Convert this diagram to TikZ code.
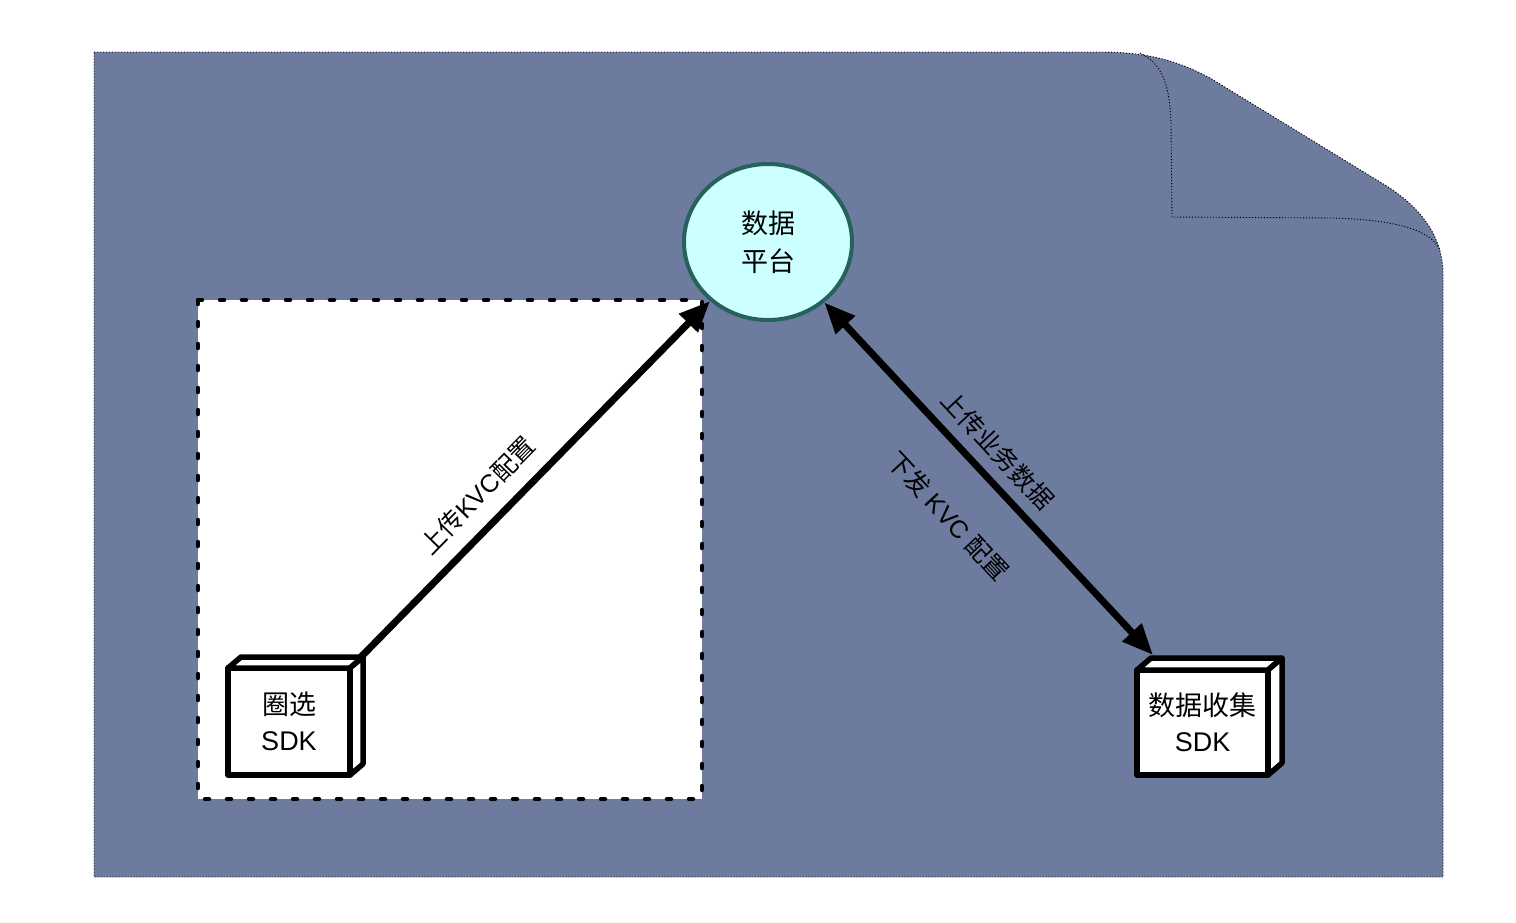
\documentclass[tikz,border=0pt]{standalone}
\usepackage{fontspec}
\setmainfont{Liberation Sans}
\newfontfamily\cjk{Noto Sans CJK SC}
\usetikzlibrary{arrows.meta,calc,shapes.geometric}
\definecolor{pagebg}{RGB}{109,123,159}
\definecolor{platfill}{RGB}{204,255,255}
\definecolor{platline}{RGB}{38,98,92}
\tikzset{
  sheet/.style={draw=black, line width=0.9pt, dash pattern=on 1.2pt off 1.8pt},
  zone/.style={draw=black, fill=white, line width=4.5pt, line cap=round, dash pattern=on 4pt off 18pt},
  cube/.style={draw=black, fill=white, line width=5.5pt, line join=round, outer sep=0pt, inner sep=0pt,
    align=center, font=\fontsize{27}{36}\selectfont},
  facet/.style={draw=black, fill=white, line width=5.5pt, line join=round},
  hub/.style={ellipse, draw=platline, fill=platfill, line width=4pt, minimum width=168pt,
    minimum height=156pt, inner sep=0pt, align=center, font=\fontsize{27}{38}\selectfont},
  link/.style={draw=black, line width=7pt},
  tip/.style={-{Triangle[length=31pt,width=25pt]}},
  tips/.style={{Triangle[length=31pt,width=25pt]}-{Triangle[length=31pt,width=25pt]}},
  lbl/.style={sloped, inner sep=0pt, font=\fontsize{25}{28}\selectfont}
}
\begin{document}
\begin{tikzpicture}[x=1pt,y=-1pt]
\useasboundingbox (0,0) rectangle (1516,922);
% sheet with folded corner
\path[sheet, fill=pagebg] (94,52) -- (1100,52)
  .. controls (1150,52) and (1180,62) .. (1210,78) -- (1385,185)
  .. controls (1425,210) and (1443,240) .. (1443,275) -- (1443,877) -- (94,877) -- cycle;
\draw[sheet] (1140,53) .. controls (1165,65) and (1170,90) .. (1171,125) -- (1172,217)
  -- (1335,218) .. controls (1390,220) and (1430,228) .. (1440,250);
% dashed client zone
\path[zone] (198,300) rectangle (702,799);
% platform
\node[hub] (plat) at (768,242) {{\cjk 数据}\\{\cjk 平台}};
% selection SDK
\node[cube, minimum width=122pt, minimum height=107pt] (b1) at (289,721.5) {{\cjk 圈选}\\SDK};
\draw[facet] (b1.north west) -- ++(13,-11) -- ($(b1.north east)+(13,-11)$) -- (b1.north east) -- cycle;
\draw[facet] (b1.north east) -- ++(13,-11) -- ($(b1.south east)+(13,-11)$) -- (b1.south east) -- cycle;
\coordinate (b1top) at ($(b1.north east)+(8,-8)$);
% collection SDK
\node[cube, minimum width=131pt, minimum height=105pt] (b2) at (1202.5,722.5) {{\cjk 数据收集}\\SDK};
\draw[facet] (b2.north west) -- ++(14,-12) -- ($(b2.north east)+(14,-12)$) -- (b2.north east) -- cycle;
\draw[facet] (b2.north east) -- ++(14,-12) -- ($(b2.south east)+(14,-12)$) -- (b2.south east) -- cycle;
\coordinate (b2top) at ($(b2.north west)+(16,-15)$);
% connectors
\draw[link, tip] (b1top) -- (plat)
  node[lbl, pos=0.4, above=15pt] {{\cjk 上传}KVC{\cjk 配置}};
\draw[link, tips] (plat) -- (b2top)
  node[lbl, pos=0.47, above=11pt] {\cjk 上传业务数据}
  node[lbl, pos=0.5, below=40pt] {{\cjk 下发} KVC {\cjk 配置}};
\end{tikzpicture}
\end{document}
